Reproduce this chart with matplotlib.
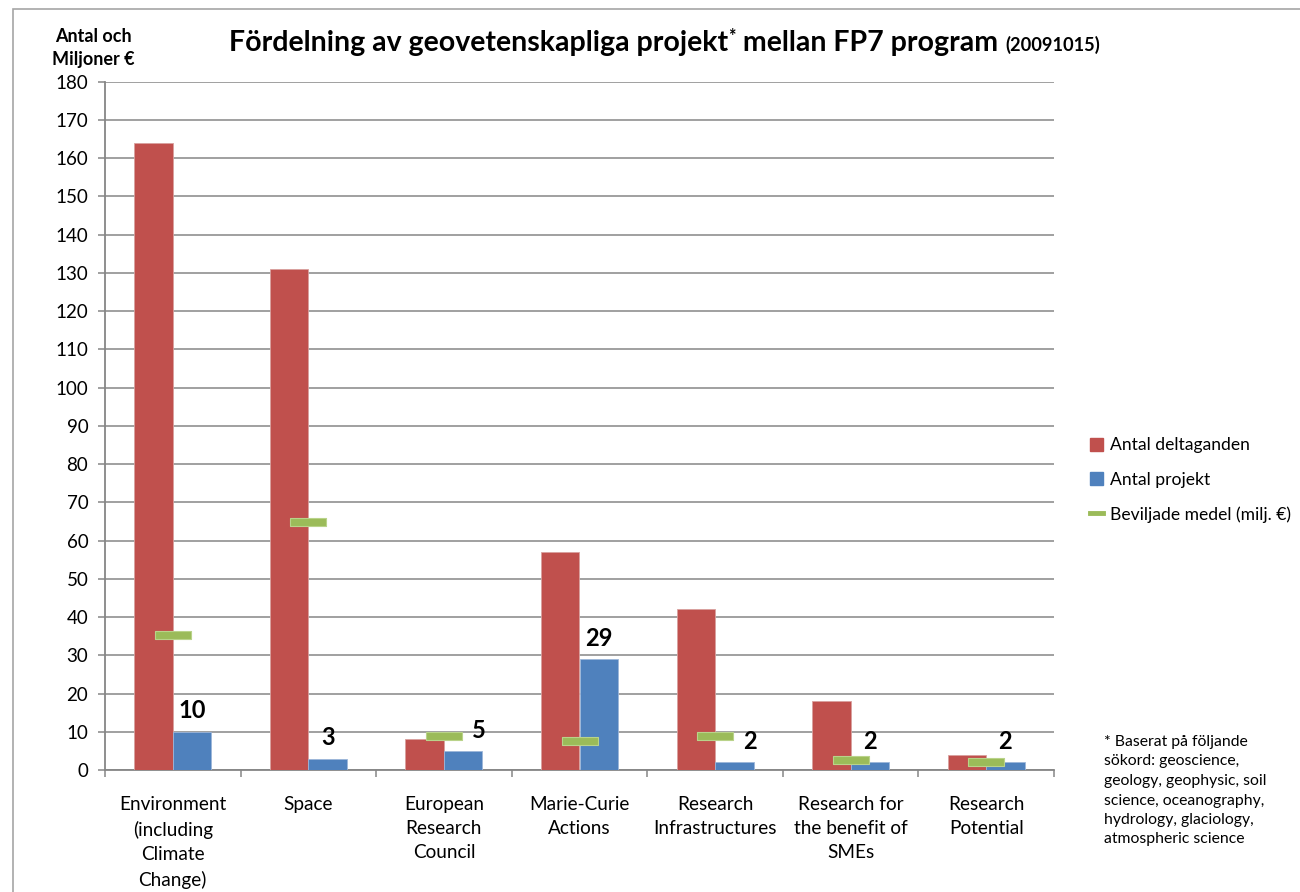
import matplotlib
matplotlib.use("Agg")
import matplotlib.pyplot as plt
from matplotlib.patches import Rectangle, Patch
from matplotlib.lines import Line2D

plt.rcParams['font.family'] = ['Lato', 'DejaVu Sans']

categories = ["Environment\n(including\nClimate\nChange)", "Space", "European\nResearch\nCouncil",
              "Marie-Curie\nActions", "Research\nInfrastructures", "Research for\nthe benefit of\nSMEs",
              "Research\nPotential"]
deltaganden = [164, 131, 8, 57, 42, 18, 4]
projekt = [10, 3, 5, 29, 2, 2, 2]
medel = [35.2, 64.8, 8.9, 7.5, 8.9, 2.6, 2.2]
yticks = list(range(0, 181, 10))

RED = "#C0504D"
BLUE = "#4F81BD"
GREEN = "#9BBB59"
GRID = "#868686"

W, H = 1300, 892
fig = plt.figure(figsize=(W / 100, H / 100), dpi=100)
ax = fig.add_axes([105 / W, 1 - 770 / H, (1054 - 105) / W, (770 - 81.7) / H])

x = list(range(len(categories)))
bw = 0.284
ax.bar([i - bw / 2 for i in x], deltaganden, width=bw, color=RED, edgecolor="#D9A09E",
       linewidth=0.6, zorder=3, label="Antal deltaganden")
ax.bar([i + bw / 2 for i in x], projekt, width=bw, color=BLUE, edgecolor="#9CB6D9",
       linewidth=0.6, zorder=3, label="Antal projekt")
dash = [(-1, -0.2), (1, -0.2), (1, 0.2), (-1, 0.2), (-1, -0.2)]
ax.plot(x, medel, linestyle="none", marker=dash, markersize=25.5, markerfacecolor=GREEN,
        markeredgecolor="#B9D38A", markeredgewidth=0.8, zorder=4)

# data labels for projects
dx = [0, 0, 11, 0, 11, 0, 0]
for i, v in enumerate(projekt):
    ax.annotate(str(v), (i + bw / 2, v), xytext=(dx[i], 15), textcoords="offset points",
                ha="center", va="center", fontsize=17, fontweight="bold", color="black", zorder=5)

ax.set_xlim(-0.5, len(categories) - 0.5)
ax.set_ylim(0, 180)
ax.set_yticks(yticks)
ax.set_yticklabels([str(t) for t in yticks])
ax.yaxis.grid(True, color=GRID, linewidth=1.1, zorder=0)
ax.set_axisbelow(True)
for s in ["top", "right"]:
    ax.spines[s].set_visible(False)
for s in ["left", "bottom"]:
    ax.spines[s].set_color(GRID)
    ax.spines[s].set_linewidth(1.3)
ax.tick_params(axis="y", length=5, color=GRID, width=1.1, labelsize=13.5, pad=7)
ax.set_xticks(x)
ax.set_xticklabels(categories, fontsize=13.7, linespacing=1.5)
ax.set_xticks([i - 0.5 for i in range(len(categories) + 1)], minor=True)
ax.tick_params(axis="x", which="major", length=0, pad=19)
ax.tick_params(axis="x", which="minor", length=5, color=GRID, width=1.1)

# y label
fig.text(93 / W, 1 - 37 / H, "Antal och", ha="center", va="center", fontsize=13, fontweight="bold")
fig.text(93 / W, 1 - 60 / H, "Miljoner €", ha="center", va="center", fontsize=13, fontweight="bold")

# title built from pieces, fitted to the reference width
fig.canvas.draw()
r = fig.canvas.get_renderer()
pieces = [("Fördelning av geovetenskapliga projekt", 1.0, 0),
          ("*", 0.62, 0.3),
          (" mellan FP7 program ", 1.0, 0),
          ("(20091015)", 0.64, 0)]
base_fs = 16.5
texts = []
for s, f, rise in pieces:
    t = fig.text(0, 0, s, fontsize=base_fs * f, fontweight="bold", ha="left", va="baseline")
    texts.append((t, f, rise))
total = sum(t.get_window_extent(r).width for t, _, _ in texts)
scale = (1099 - 230) / total
fs = base_fs * scale
for t, f, rise in texts:
    t.set_fontsize(fs * f)
widths = [t.get_window_extent(r).width for t, _, _ in texts]
total = sum(widths)
xs = (230 + 1099) / 2 - total / 2
base = 51
for (t, f, rise), wdt in zip(texts, widths):
    t.set_position((xs / W, 1 - (base - rise * fs * 1.39) / H))
    xs += wdt

# legend
handles = [Patch(facecolor=RED, edgecolor=RED), Patch(facecolor=BLUE, edgecolor=BLUE),
           Line2D([0], [0], color=GREEN, linewidth=3.5)]
labels = ["Antal deltaganden", "Antal projekt", "Beviljade medel (milj. €)"]
fig.legend(handles, labels, loc="center left", bbox_to_anchor=(1081 / W, 1 - 480 / H),
           frameon=False, fontsize=12.6, handlelength=0.75, handleheight=0.75, handletextpad=0.4,
           labelspacing=1.05, borderpad=0)

# footnote
fig.text(1104 / W, 1 - 735 / H,
         "* Baserat på följande\nsökord: geoscience,\ngeology, geophysic, soil\nscience, oceanography,\nhydrology, glaciology,\natmospheric science",
         ha="left", va="top", fontsize=11.3, linespacing=1.5)

# outer border
fig.add_artist(Rectangle((13 / W, -0.1), 1.2, 1 - 9 / H + 0.1, transform=fig.transFigure,
                         fill=False, edgecolor="#A6A6A6", linewidth=1.2))

fig.savefig("out.png", dpi=100)
